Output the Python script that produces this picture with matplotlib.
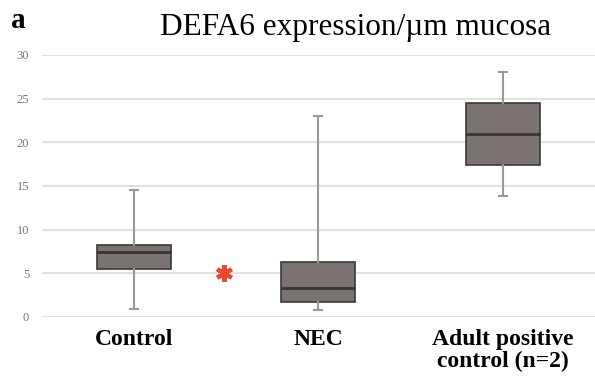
import matplotlib
matplotlib.use("Agg")
import matplotlib.pyplot as plt

# box statistics
groups = ["Control", "NEC", "Adult positive\ncontrol (n=2)"]
whislo = [0.9, 0.8, 13.8]
q1 = [5.5, 1.7, 17.4]
med = [7.4, 3.3, 21.0]
q3 = [8.2, 6.3, 24.5]
whishi = [14.5, 23.0, 28.0]
yticks = [0, 5, 10, 15, 20, 25, 30]

stats = []
for i in range(len(groups)):
    stats.append({"label": groups[i], "whislo": whislo[i], "q1": q1[i],
                  "med": med[i], "q3": q3[i], "whishi": whishi[i], "fliers": []})

plt.rcParams["font.family"] = ["Liberation Serif", "DejaVu Serif"]

fig = plt.figure(figsize=(5.95, 3.79), dpi=100)
ax = fig.add_axes([0.07, 0.164, 0.93, 0.691])

for y in yticks:
    ax.axhline(y, color="#dcdcdc", lw=1.2, zorder=0)

ax.bxp(stats, positions=[1, 2, 3], widths=0.4, showfliers=False, patch_artist=True,
       boxprops=dict(facecolor="#7b7272", edgecolor="#3c3838", lw=1.2),
       medianprops=dict(color="#3a3434", lw=2),
       whiskerprops=dict(color="#999999", lw=1.5),
       capprops=dict(color="#999999", lw=1.5),
       capwidths=0.045, zorder=3)

# significance marker between Control and NEC
ax.plot(1.49, 5, marker=(6, 2, 0), color="#e84a30", ms=12, mew=3, zorder=4)

ax.set_xlim(0.5, 3.5)
ax.set_ylim(0, 30)
ax.set_yticks(yticks)
ax.set_yticklabels([str(y) for y in yticks], fontsize=9, color="#777777")
ax.set_xticks([1, 2, 3])
labels = ax.set_xticklabels(groups, fontsize=17, fontweight="bold", va="top", linespacing=1.05)
ax.tick_params(axis="x", length=0, pad=9)
ax.tick_params(axis="y", length=0, pad=9)
for s in ax.spines.values():
    s.set_visible(False)

fig.text(0.597, 0.928, "DEFA6 expression/\u00b5m mucosa", fontsize=22.5, ha="center", va="center")
fig.text(0.018, 0.945, "a", fontsize=21, fontweight="bold", ha="left", va="center")

fig.savefig("out.png", dpi=100)
